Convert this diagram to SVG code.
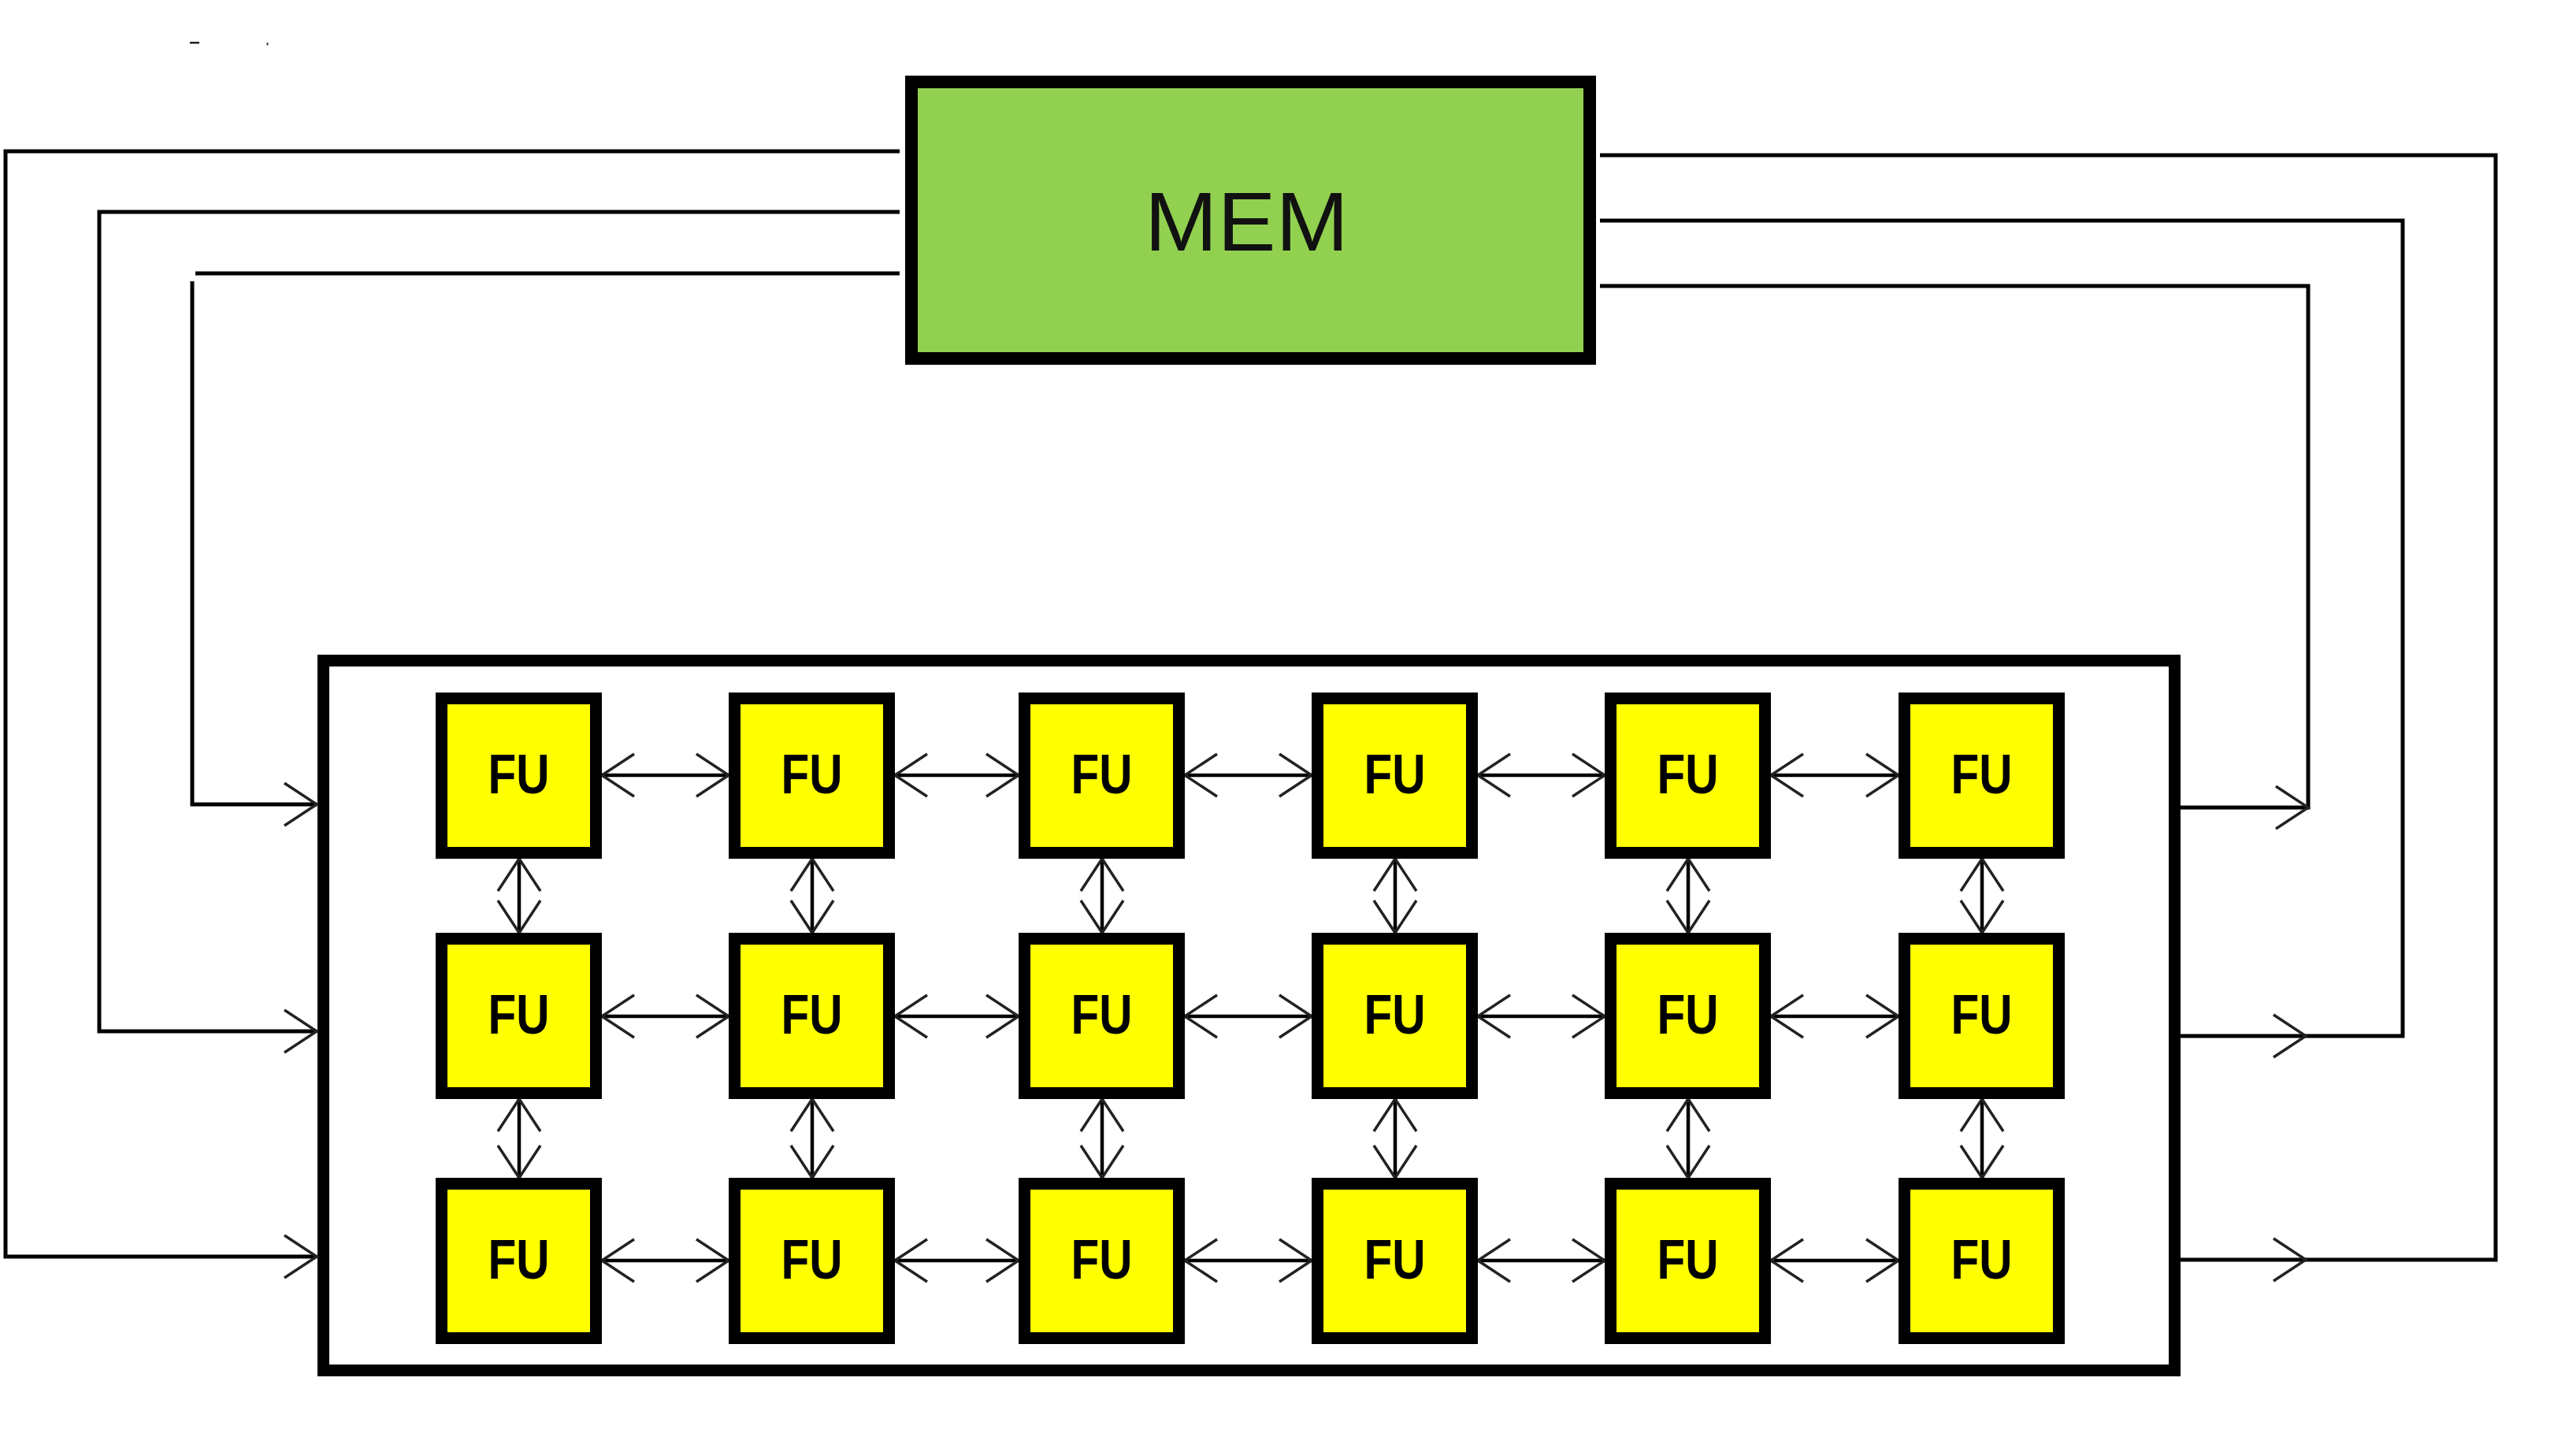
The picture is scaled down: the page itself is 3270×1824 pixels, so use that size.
<svg xmlns="http://www.w3.org/2000/svg" xmlns:xlink="http://www.w3.org/1999/xlink" width="3270" height="1824" viewBox="0 0 3270 1824">
  <style>
    .bus { fill: none; stroke: #000; stroke-width: 5; stroke-linejoin: miter; stroke-linecap: butt; }
    .link { fill: none; stroke: #000; stroke-width: 4.5; }
    .chev { fill: none; stroke: #222; stroke-width: 3.5; stroke-linejoin: miter; }
    .fu rect { fill: #FFFF00; stroke: #000; stroke-width: 15; }
    .fu text { font-family: "Liberation Sans", Arial, sans-serif; font-weight: bold; font-size: 70px; fill: #000; text-anchor: middle; }
    .mem rect { fill: #92D050; stroke: #000; stroke-width: 16; }
    .mem text { font-family: "Liberation Sans", Arial, sans-serif; font-size: 106px; fill: #111; text-anchor: middle; }
  </style>
  <defs>
    <path id="chev" class="chev" d="M-41,-27 L0,0 L-41,27"/>
  </defs>
  <rect width="3270" height="1824" fill="#fff"/>
  <rect x="241" y="53" width="12" height="2.5" fill="#222"/>
  <rect x="338.5" y="54" width="2" height="3.5" fill="#444"/>

  <g id="mem" class="mem">
    <rect x="1157" y="104" width="861" height="351"/>
    <text x="1582.5" y="318" textLength="259" lengthAdjust="spacingAndGlyphs">MEM</text>
  </g>

  <g id="array">
    <rect x="410.5" y="838.5" width="2350" height="901" fill="#fff" stroke="#000" stroke-width="15"/>
  </g>

  <g id="connectors">
    <!-- left buses into array -->
    <path class="bus" d="M1142,192 H7 V1595 H402"/>
    <use xlink:href="#chev" transform="translate(402,1595)"/>
    <path class="bus" d="M1142,269 H126 V1309 H402"/>
    <use xlink:href="#chev" transform="translate(402,1309)"/>
    <path class="bus" d="M1142,347 H248"/>
    <path class="bus" d="M244,357 V1021 H402"/>
    <use xlink:href="#chev" transform="translate(402,1021)"/>
    <!-- right buses from array back to MEM -->
    <path class="bus" d="M2768,1025 H2930 V363 H2031"/>
    <use xlink:href="#chev" transform="translate(2930,1025)"/>
    <path class="bus" d="M2768,1315 H3050 V280 H2031"/>
    <use xlink:href="#chev" transform="translate(2927,1315)"/>
    <path class="bus" d="M2768,1599 H3168 V197 H2031"/>
    <use xlink:href="#chev" transform="translate(2927,1599)"/>

    <!-- horizontal links row 1 -->
    <path class="link" d="M764,984 H925 M1136,984 H1293 M1504,984 H1665 M1876,984 H2037 M2248,984 H2410"/>
    <!-- horizontal links row 2 -->
    <path class="link" d="M764,1290 H925 M1136,1290 H1293 M1504,1290 H1665 M1876,1290 H2037 M2248,1290 H2410"/>
    <!-- horizontal links row 3 -->
    <path class="link" d="M764,1600 H925 M1136,1600 H1293 M1504,1600 H1665 M1876,1600 H2037 M2248,1600 H2410"/>
    <!-- vertical links -->
    <path class="link" d="M659,1090 V1184 M1031,1090 V1184 M1399,1090 V1184 M1771,1090 V1184 M2143,1090 V1184 M2516,1090 V1184"/>
    <path class="link" d="M659,1395 V1495 M1031,1395 V1495 M1399,1395 V1495 M1771,1395 V1495 M2143,1395 V1495 M2516,1395 V1495"/>

    <!-- arrowheads horizontal, row 1 -->
    <use xlink:href="#chev" transform="translate(764,984) rotate(180)"/><use xlink:href="#chev" transform="translate(925,984)"/>
    <use xlink:href="#chev" transform="translate(1136,984) rotate(180)"/><use xlink:href="#chev" transform="translate(1293,984)"/>
    <use xlink:href="#chev" transform="translate(1504,984) rotate(180)"/><use xlink:href="#chev" transform="translate(1665,984)"/>
    <use xlink:href="#chev" transform="translate(1876,984) rotate(180)"/><use xlink:href="#chev" transform="translate(2037,984)"/>
    <use xlink:href="#chev" transform="translate(2248,984) rotate(180)"/><use xlink:href="#chev" transform="translate(2410,984)"/>
    <!-- row 2 -->
    <use xlink:href="#chev" transform="translate(764,1290) rotate(180)"/><use xlink:href="#chev" transform="translate(925,1290)"/>
    <use xlink:href="#chev" transform="translate(1136,1290) rotate(180)"/><use xlink:href="#chev" transform="translate(1293,1290)"/>
    <use xlink:href="#chev" transform="translate(1504,1290) rotate(180)"/><use xlink:href="#chev" transform="translate(1665,1290)"/>
    <use xlink:href="#chev" transform="translate(1876,1290) rotate(180)"/><use xlink:href="#chev" transform="translate(2037,1290)"/>
    <use xlink:href="#chev" transform="translate(2248,1290) rotate(180)"/><use xlink:href="#chev" transform="translate(2410,1290)"/>
    <!-- row 3 -->
    <use xlink:href="#chev" transform="translate(764,1600) rotate(180)"/><use xlink:href="#chev" transform="translate(925,1600)"/>
    <use xlink:href="#chev" transform="translate(1136,1600) rotate(180)"/><use xlink:href="#chev" transform="translate(1293,1600)"/>
    <use xlink:href="#chev" transform="translate(1504,1600) rotate(180)"/><use xlink:href="#chev" transform="translate(1665,1600)"/>
    <use xlink:href="#chev" transform="translate(1876,1600) rotate(180)"/><use xlink:href="#chev" transform="translate(2037,1600)"/>
    <use xlink:href="#chev" transform="translate(2248,1600) rotate(180)"/><use xlink:href="#chev" transform="translate(2410,1600)"/>
    <!-- vertical arrowheads rows 1-2 -->
    <use xlink:href="#chev" transform="translate(659,1090) rotate(-90)"/><use xlink:href="#chev" transform="translate(659,1184) rotate(90)"/>
    <use xlink:href="#chev" transform="translate(1031,1090) rotate(-90)"/><use xlink:href="#chev" transform="translate(1031,1184) rotate(90)"/>
    <use xlink:href="#chev" transform="translate(1399,1090) rotate(-90)"/><use xlink:href="#chev" transform="translate(1399,1184) rotate(90)"/>
    <use xlink:href="#chev" transform="translate(1771,1090) rotate(-90)"/><use xlink:href="#chev" transform="translate(1771,1184) rotate(90)"/>
    <use xlink:href="#chev" transform="translate(2143,1090) rotate(-90)"/><use xlink:href="#chev" transform="translate(2143,1184) rotate(90)"/>
    <use xlink:href="#chev" transform="translate(2516,1090) rotate(-90)"/><use xlink:href="#chev" transform="translate(2516,1184) rotate(90)"/>
    <!-- vertical arrowheads rows 2-3 -->
    <use xlink:href="#chev" transform="translate(659,1395) rotate(-90)"/><use xlink:href="#chev" transform="translate(659,1495) rotate(90)"/>
    <use xlink:href="#chev" transform="translate(1031,1395) rotate(-90)"/><use xlink:href="#chev" transform="translate(1031,1495) rotate(90)"/>
    <use xlink:href="#chev" transform="translate(1399,1395) rotate(-90)"/><use xlink:href="#chev" transform="translate(1399,1495) rotate(90)"/>
    <use xlink:href="#chev" transform="translate(1771,1395) rotate(-90)"/><use xlink:href="#chev" transform="translate(1771,1495) rotate(90)"/>
    <use xlink:href="#chev" transform="translate(2143,1395) rotate(-90)"/><use xlink:href="#chev" transform="translate(2143,1495) rotate(90)"/>
    <use xlink:href="#chev" transform="translate(2516,1395) rotate(-90)"/><use xlink:href="#chev" transform="translate(2516,1495) rotate(90)"/>
  </g>

  <!-- FU nodes: row 1 -->
  <g id="fu-1-1" class="fu"><rect x="560.5" y="886.5" width="196" height="196"/><text x="658.5" y="1007" textLength="78" lengthAdjust="spacingAndGlyphs">FU</text></g>
  <g id="fu-1-2" class="fu"><rect x="932.5" y="886.5" width="196" height="196"/><text x="1030.5" y="1007" textLength="78" lengthAdjust="spacingAndGlyphs">FU</text></g>
  <g id="fu-1-3" class="fu"><rect x="1300.5" y="886.5" width="196" height="196"/><text x="1398.5" y="1007" textLength="78" lengthAdjust="spacingAndGlyphs">FU</text></g>
  <g id="fu-1-4" class="fu"><rect x="1672.5" y="886.5" width="196" height="196"/><text x="1770.5" y="1007" textLength="78" lengthAdjust="spacingAndGlyphs">FU</text></g>
  <g id="fu-1-5" class="fu"><rect x="2044.5" y="886.5" width="196" height="196"/><text x="2142.5" y="1007" textLength="78" lengthAdjust="spacingAndGlyphs">FU</text></g>
  <g id="fu-1-6" class="fu"><rect x="2417.5" y="886.5" width="196" height="196"/><text x="2515.5" y="1007" textLength="78" lengthAdjust="spacingAndGlyphs">FU</text></g>
  <!-- row 2 -->
  <g id="fu-2-1" class="fu"><rect x="560.5" y="1191.5" width="196" height="196"/><text x="658.5" y="1312" textLength="78" lengthAdjust="spacingAndGlyphs">FU</text></g>
  <g id="fu-2-2" class="fu"><rect x="932.5" y="1191.5" width="196" height="196"/><text x="1030.5" y="1312" textLength="78" lengthAdjust="spacingAndGlyphs">FU</text></g>
  <g id="fu-2-3" class="fu"><rect x="1300.5" y="1191.5" width="196" height="196"/><text x="1398.5" y="1312" textLength="78" lengthAdjust="spacingAndGlyphs">FU</text></g>
  <g id="fu-2-4" class="fu"><rect x="1672.5" y="1191.5" width="196" height="196"/><text x="1770.5" y="1312" textLength="78" lengthAdjust="spacingAndGlyphs">FU</text></g>
  <g id="fu-2-5" class="fu"><rect x="2044.5" y="1191.5" width="196" height="196"/><text x="2142.5" y="1312" textLength="78" lengthAdjust="spacingAndGlyphs">FU</text></g>
  <g id="fu-2-6" class="fu"><rect x="2417.5" y="1191.5" width="196" height="196"/><text x="2515.5" y="1312" textLength="78" lengthAdjust="spacingAndGlyphs">FU</text></g>
  <!-- row 3 -->
  <g id="fu-3-1" class="fu"><rect x="560.5" y="1502.5" width="196" height="196"/><text x="658.5" y="1623" textLength="78" lengthAdjust="spacingAndGlyphs">FU</text></g>
  <g id="fu-3-2" class="fu"><rect x="932.5" y="1502.5" width="196" height="196"/><text x="1030.5" y="1623" textLength="78" lengthAdjust="spacingAndGlyphs">FU</text></g>
  <g id="fu-3-3" class="fu"><rect x="1300.5" y="1502.5" width="196" height="196"/><text x="1398.5" y="1623" textLength="78" lengthAdjust="spacingAndGlyphs">FU</text></g>
  <g id="fu-3-4" class="fu"><rect x="1672.5" y="1502.5" width="196" height="196"/><text x="1770.5" y="1623" textLength="78" lengthAdjust="spacingAndGlyphs">FU</text></g>
  <g id="fu-3-5" class="fu"><rect x="2044.5" y="1502.5" width="196" height="196"/><text x="2142.5" y="1623" textLength="78" lengthAdjust="spacingAndGlyphs">FU</text></g>
  <g id="fu-3-6" class="fu"><rect x="2417.5" y="1502.5" width="196" height="196"/><text x="2515.5" y="1623" textLength="78" lengthAdjust="spacingAndGlyphs">FU</text></g>
</svg>
